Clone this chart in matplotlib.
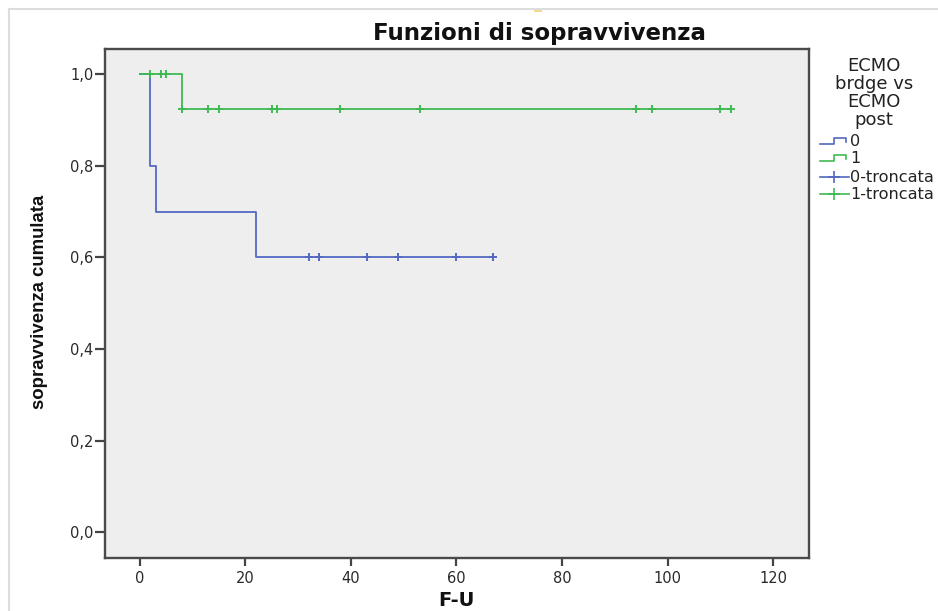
import numpy as np
import matplotlib
matplotlib.use("Agg")
import matplotlib.pyplot as plt
from matplotlib.lines import Line2D
from matplotlib.patches import Rectangle

# ---- data ----
blue_times = [0, 2, 3, 22, 67]
blue_surv = [1.0, 0.8, 0.7, 0.6, 0.6]
blue_censored = [32, 34, 43, 49, 60, 67]

green_times = [0, 8, 112]
green_surv = [1.0, 0.923, 0.923]
green_censored = [2, 4, 5, 8, 13, 15, 25, 26, 38, 53, 94, 97, 110, 112]

yticks = [0.0, 0.2, 0.4, 0.6, 0.8, 1.0]
ytick_labels = ["0,0", "0,2", "0,4", "0,6", "0,8", "1,0"]
xticks = [0, 20, 40, 60, 80, 100, 120]
legend_title = "ECMO\nbrdge vs\nECMO\npost"
legend_labels = ["0", "1", "0-troncata", "1-troncata"]

BLUE = "#5468c2"
GREEN = "#3fba52"
W, H = 938, 611

plt.rcParams['font.family'] = ['DejaVu Sans']

fig = plt.figure(figsize=(W / 100, H / 100), dpi=100)
ax = fig.add_axes([105 / W, 1 - 557.7 / H, (809 - 105) / W, (557.7 - 49) / H])
ax.set_facecolor("#eeeeee")


def fx(x):
    return x / W


def fy(y):
    return 1 - y / H


def surv_at(times, surv, t):
    idx = np.searchsorted(times, t, side='right') - 1
    return np.asarray(surv)[idx]


# step curves
ax.step(blue_times, blue_surv, where='post', color=BLUE, lw=1.3, zorder=3)
ax.step(green_times, green_surv, where='post', color=GREEN, lw=1.3, zorder=4)

# censored marks
bc = np.array(blue_censored)
ax.plot(bc, surv_at(blue_times, blue_surv, bc), ls='none', marker='+', ms=6,
        mew=1.4, color=BLUE, zorder=5)
gc = np.array(green_censored)
ax.plot(gc, surv_at(green_times, green_surv, gc), ls='none', marker='+', ms=6,
        mew=1.4, color=GREEN, zorder=6)

ax.set_xlim(-6.6, 126.8)
ax.set_ylim(-0.0555, 1.055)
ax.set_xticks(xticks)
ax.set_xticklabels([str(v) for v in xticks])
ax.set_yticks(yticks)
ax.set_yticklabels(ytick_labels)
ax.tick_params(axis='both', direction='out', width=1.6, color='#444444',
               labelsize=10.5, labelcolor='#2a2a2a')
ax.tick_params(axis='y', length=7.5, pad=1)
ax.tick_params(axis='x', length=6, pad=3.5)
for s in ax.spines.values():
    s.set_color('#4a4a4a')
    s.set_linewidth(1.7)

# axis titles and chart title
fig.text(fx(456), fy(605.5), "F-U", ha='center', va='baseline', fontsize=14,
         fontweight='bold', color='#111111')
fig.text(fx(40), fy(302), "sopravvivenza cumulata", rotation=90, ha='center',
         va='center', fontsize=13.4, fontweight='bold',
         family=['Liberation Sans', 'DejaVu Sans'], color='#111111')
fig.text(fx(539.5), fy(40), "Funzioni di sopravvivenza", ha='center',
         va='baseline', fontsize=16.5, fontweight='bold', color='#111111')

# legend (drawn manually outside the plot)
fig.text(fx(874), fy(93), legend_title, ha='center', va='center',
         multialignment='center', fontsize=13, linespacing=1.0,
         color='#222222')
entry_y = [141, 158, 177, 194]
colors = [BLUE, GREEN, BLUE, GREEN]
for i, (lab, yy, c) in enumerate(zip(legend_labels, entry_y, colors)):
    if i < 2:
        xs = [820, 834, 834, 846, 846]
        ys = [yy + 3, yy + 3, yy - 3, yy - 3, yy + 1]
        fig.add_artist(Line2D([fx(v) for v in xs], [fy(v) for v in ys],
                              color=c, lw=1.2, transform=fig.transFigure))
    else:
        fig.add_artist(Line2D([fx(820), fx(849)], [fy(yy), fy(yy)], color=c,
                              lw=1.2, transform=fig.transFigure))
        fig.add_artist(Line2D([fx(834)], [fy(yy)], color=c, marker='+', ms=8,
                              mew=1.2, ls='none', transform=fig.transFigure))
    fig.text(fx(850), fy(yy), lab, ha='left', va='center', fontsize=11.6,
             color='#222222')

# faint screenshot border and small yellow speck
fig.add_artist(Line2D([fx(9), fx(9)], [0, fy(9)], color='#dddddd', lw=1.5,
                      transform=fig.transFigure))
fig.add_artist(Line2D([fx(9), 1], [fy(9), fy(9)], color='#dddddd', lw=1.5,
                      transform=fig.transFigure))
fig.add_artist(Rectangle((fx(534), fy(12)), 8 / W, 3 / H, color='#f6d98c',
                         transform=fig.transFigure, lw=0))

fig.savefig("out.png", dpi=100)
